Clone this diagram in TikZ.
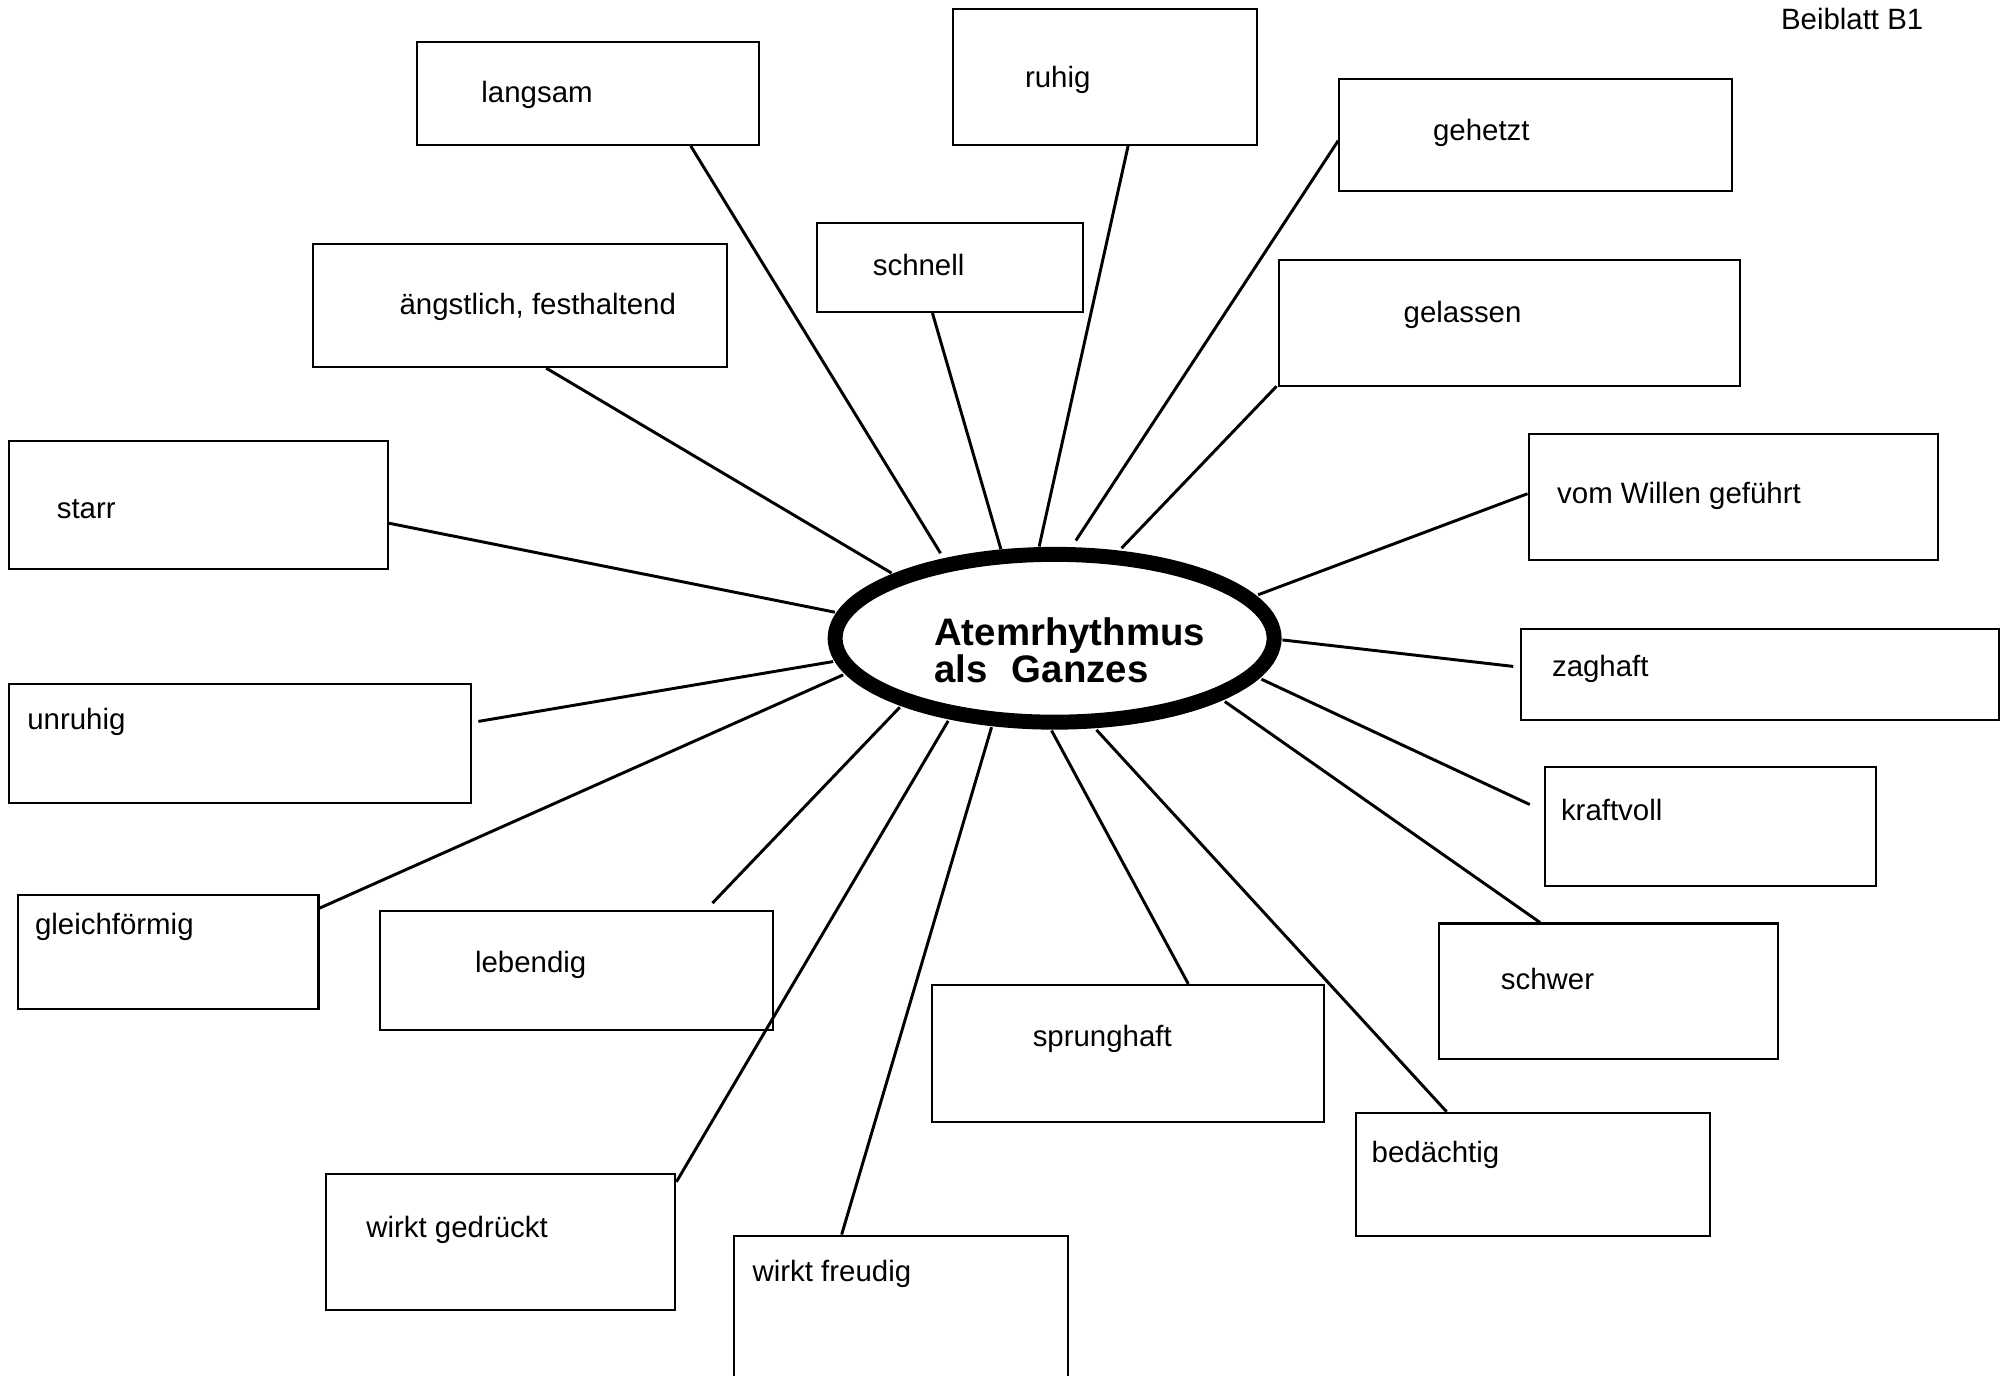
\documentclass[tikz,border=0pt]{standalone}
\usepackage{fontspec}
\setmainfont{Liberation Sans}
\usetikzlibrary{shapes.geometric,fit}
\begin{document}
\begin{tikzpicture}[x=0.5pt,y=-0.5pt,
  box/.style={draw,line width=0.8pt,inner sep=0pt,fit={#1}},
  word/.style={anchor=base west,inner sep=0pt,font=\fontsize{11.5pt}{13pt}\selectfont},
  head/.style={anchor=base west,inner sep=0pt,font=\bfseries\fontsize{15pt}{17pt}\selectfont},
  spoke/.style={line width=1.15pt}]
\useasboundingbox (0,0) rectangle (1568.3,1075);

% central ellipse
\node[ellipse,draw,line width=5.85pt,minimum width=171.6pt,minimum height=65.6pt,inner sep=0pt] (core) at (824.5,499) {};
\node[head] (h1) at (730,505) {Atemrhythmus};
\node[head] (h2) at (730,533.6) {als\hspace{9.5pt}Ganzes};

% sheet label
\node[word] (sheet) at (1392,23) {Beiblatt B1};

% boxes
\node[box={(326,32.6) (593.3,113.3)}] (langsam) {};
\node[word] at (376,80.5) {langsam};
\node[box={(745,7) (983,113)}] (ruhig) {};
\node[word] at (801,68.5) {ruhig};
\node[box={(1047,62) (1354,149)}] (gehetzt) {};
\node[word] at (1120,109.5) {gehetzt};
\node[box={(245,191) (568,287)}] (angst) {};
\node[word] at (312,245.5) {ängstlich, festhaltend};
\node[box={(639,174) (847,244)}] (schnell) {};
\node[word] at (682,215.5) {schnell};
\node[box={(1000,203) (1360,302)}] (gelassen) {};
\node[word] at (1097,252.5) {gelassen};
\node[box={(7,345) (303,445)}] (starr) {};
\node[word] at (44,405.5) {starr};
\node[box={(1195,339) (1515,438)}] (willen) {};
\node[word] at (1217,393.5) {vom Willen geführt};
\node[box={(7,535) (368,628)}] (unruhig) {};
\node[word] at (21,570.5) {unruhig};
\node[box={(1189,492) (1563,563)}] (zaghaft) {};
\node[word] at (1213,528.5) {zaghaft};
\node[box={(1208,600) (1467,693)}] (kraftvoll) {};
\node[word] at (1220,641.5) {kraftvoll};
\node[box={(14,700) (249,789)}] (gleich) {};
\node[word] at (27,730.5) {gleichförmig};
\node[box={(297,712) (604,805)}] (lebendig) {};
\node[word] at (371,760.5) {lebendig};
\node[box={(729,770) (1035,877)}] (sprung) {};
\node[word] at (807,818.5) {sprunghaft};
\node[box={(1125,722) (1390,828)}] (schwer) {};
\node[word] at (1173,773.5) {schwer};
\node[box={(1060,870) (1337,966)}] (bed) {};
\node[word] at (1072,908.5) {bedächtig};
\node[box={(255,918) (528,1024)}] (gedr) {};
\node[word] at (286,967.5) {wirkt gedrückt};
\node[box={(573.8,966) (835,1095)}] (freud) {};
\node[word] at (588,1002) {wirkt freudig};

% inner ends of the spokes
\coordinate (e-langsam) at (735.3,432.5);
\coordinate (e-schnell) at (782.5,429.4);
\coordinate (e-ruhig) at (812.4,427.3);
\coordinate (e-gehetzt) at (841.1,422.6);
\coordinate (e-gelassen) at (876.8,428.6);
\coordinate (e-angst) at (697,448);
\coordinate (e-starr) at (652.7,478.6);
\coordinate (e-unruhig) at (651.4,517.2);
\coordinate (e-gleich) at (659.2,527.6);
\coordinate (e-lebendig) at (703.5,552.9);
\coordinate (e-gedr) at (741.3,563.6);
\coordinate (e-freud) at (775.2,568.5);
\coordinate (e-sprung) at (822.1,571.1);
\coordinate (e-bed) at (857.2,570.6);
\coordinate (e-schwer) at (957.6,548.5);
\coordinate (e-kraftvoll) at (986.2,531);
\coordinate (e-zaghaft) at (1002.6,500.3);
\coordinate (e-willen) at (983.6,465);

% outer ends that stop short of their box
\coordinate (o-unruhig) at (374,564);
\coordinate (o-zaghaft) at (1183,521);
\coordinate (o-kraftvoll) at (1196,629);
\coordinate (o-lebendig) at (557,706);

% spokes
\draw[spoke] (540,0 |- langsam.south) -- (e-langsam);
\draw[spoke] (882,0 |- ruhig.south) -- (e-ruhig);
\draw[spoke] (gehetzt.west |- 0,110) -- (e-gehetzt);
\draw[spoke] (427,0 |- angst.south) -- (e-angst);
\draw[spoke] (729,0 |- schnell.south) -- (e-schnell);
\draw[spoke] (998,302) -- (e-gelassen);
\draw[spoke] (starr.east |- 0,409) -- (e-starr);
\draw[spoke] (willen.west |- 0,386) -- (e-willen);
\draw[spoke] (o-unruhig) -- (e-unruhig);
\draw[spoke] (o-zaghaft) -- (e-zaghaft);
\draw[spoke] (o-kraftvoll) -- (e-kraftvoll);
\draw[spoke] (gleich.east |- 0,710) -- (e-gleich);
\draw[spoke] (o-lebendig) -- (e-lebendig);
\draw[spoke] (929,0 |- sprung.north) -- (e-sprung);
\draw[spoke] (1204,0 |- schwer.north) -- (e-schwer);
\draw[spoke] (1131,0 |- bed.north) -- (e-bed);
\draw[spoke] (gedr.east |- 0,924) -- (e-gedr);
\draw[spoke] (658,0 |- freud.north) -- (e-freud);
\end{tikzpicture}
\end{document}
